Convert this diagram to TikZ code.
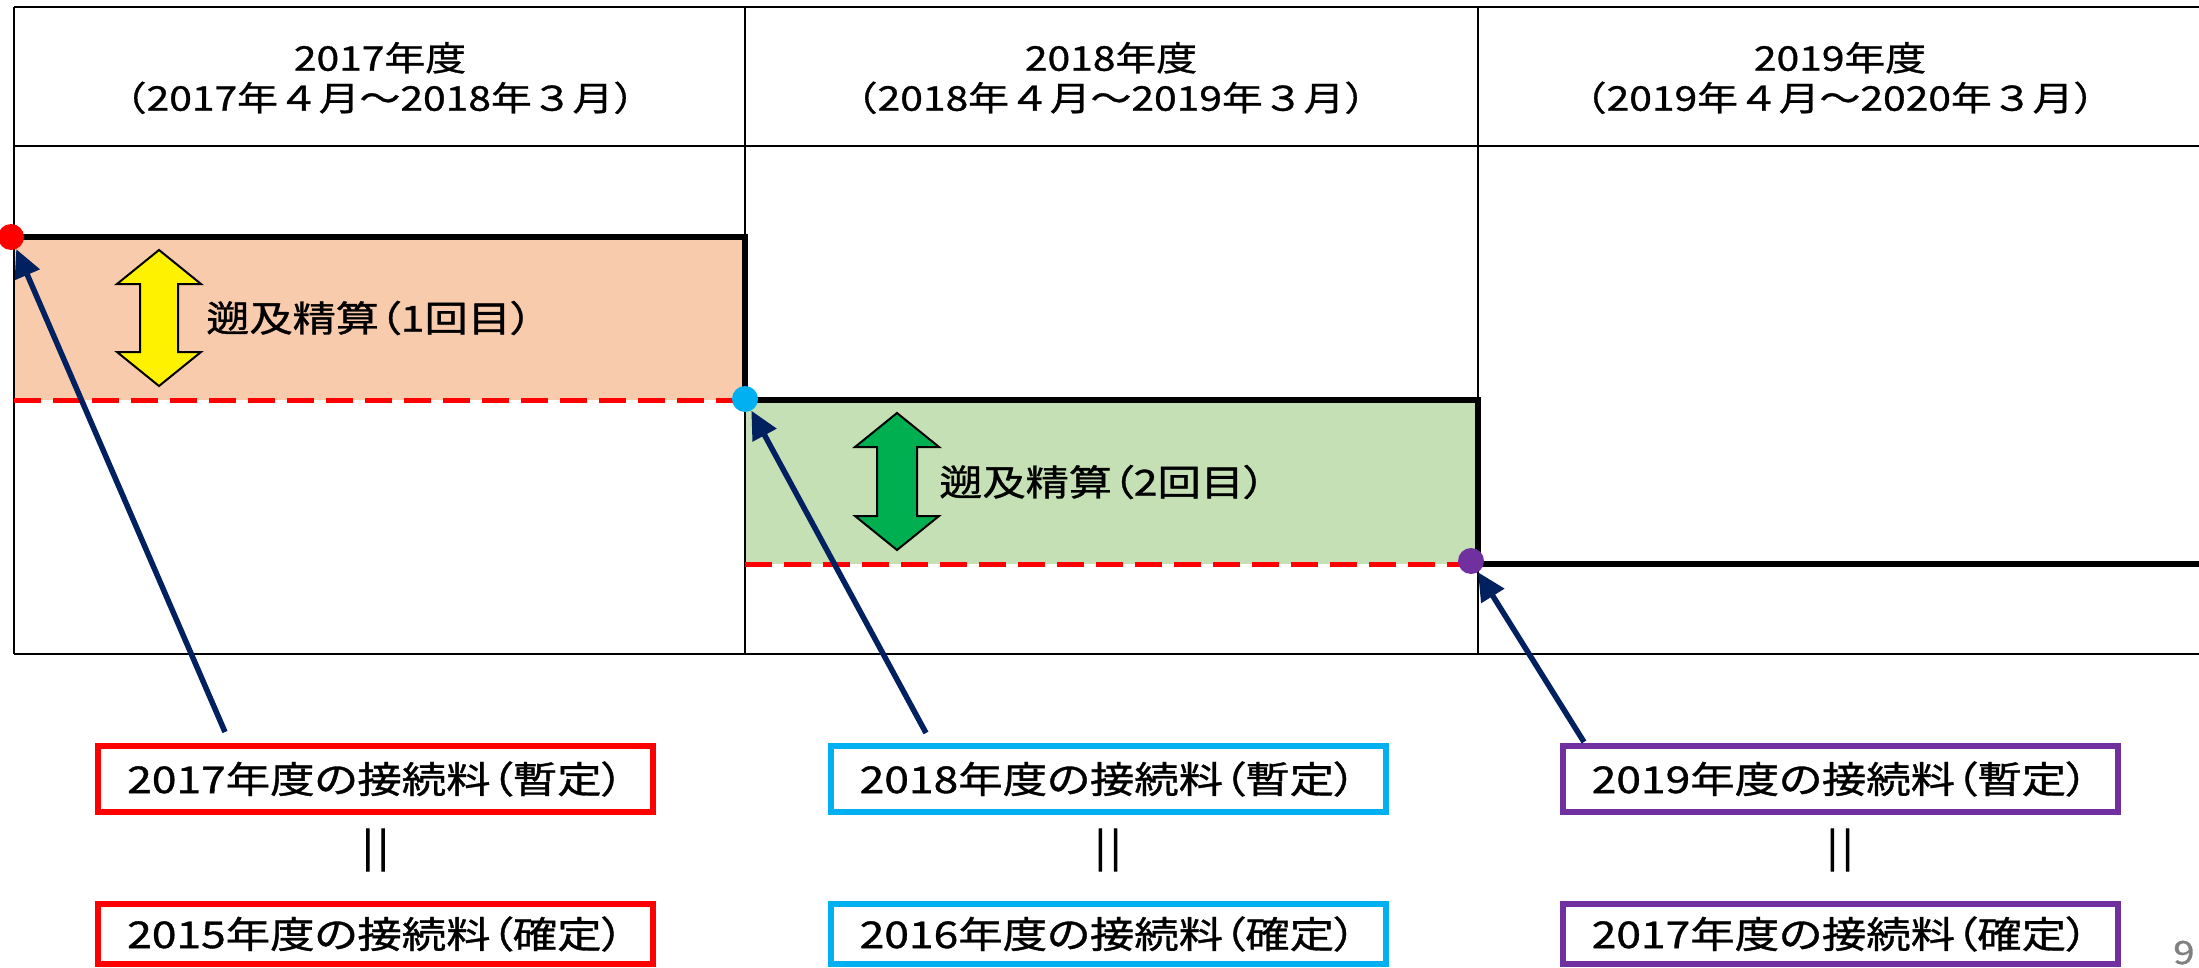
\documentclass[tikz,border=0pt]{standalone}
\usepackage{fontspec}
\setmainfont[FakeStretch=1.2, FakeBold=1, RawFeature=+palt]{Noto Sans CJK JP}
\newfontfamily\hdrfont[FakeStretch=1.2, FakeBold=1]{Noto Sans CJK JP}
\newfontfamily\eqfont[FakeBold=2.5]{Noto Sans CJK JP}
\usetikzlibrary{arrows.meta}
\definecolor{peach}{HTML}{F8CBAD}
\definecolor{lgreen}{HTML}{C5E0B4}
\definecolor{navyc}{HTML}{002060}
\definecolor{rred}{HTML}{FF0000}
\definecolor{ccyan}{HTML}{00B0F0}
\definecolor{ppurple}{HTML}{7030A0}
\definecolor{ygreen}{HTML}{00B050}
\begin{document}
\begin{tikzpicture}[x=1pt,y=-1pt,
  grid/.style={line width=2.5pt, black},
  heavy/.style={line width=6pt, black, line join=miter},
  reddash/.style={line width=5pt, rred, dash pattern=on 27pt off 12pt},
  dot/.style={circle, inner sep=0pt, minimum size=26pt},
  navyarrow/.style={line width=5.5pt, draw=navyc, -{Triangle[length=28pt,width=26pt]}},
  hdr/.style={align=center, inner sep=0pt, font=\hdrfont\fontsize{34}{40}\selectfont},
  lbltxt/.style={inner sep=0pt, font=\fontsize{36}{40}\selectfont},
  box/.style={draw, line width=6pt, minimum width=555pt, minimum height=66pt, inner sep=0pt, fill=white, font=\fontsize{37}{40}\selectfont},
  eqsign/.style={inner sep=0pt, font=\eqfont\fontsize{38}{40}\selectfont},
  blockarrow/.style={draw=black, line width=2pt, line join=miter}
]
\useasboundingbox (0,0) rectangle (2199,968);
% fills
\fill[peach] (14,237) rectangle (745,400);
\fill[lgreen] (745,400) rectangle (1478,564);
% table grid
\draw[grid] (14,7) -- (2199,7);
\draw[grid] (14,146) -- (2199,146);
\draw[grid] (14,654) -- (2199,654);
\draw[grid] (14,7) -- (14,654);
\draw[grid] (745,7) -- (745,654);
\draw[grid] (1478,7) -- (1478,654);
% headers
\node[hdr] (h1) at (380,78) {2017年度\\（2017年４月～2018年３月）};
\node[hdr] (h2) at (1111,78) {2018年度\\（2018年４月～2019年３月）};
\node[hdr] (h3) at (1840,78) {2019年度\\（2019年４月～2020年３月）};
% dashed levels
\draw[reddash] (14,400) -- (745,400);
\draw[reddash] (745,564) -- (1478,564);
% staircase
\draw[heavy] (14,237) -- (745,237) -- (745,400) -- (1478,400) -- (1478,564) -- (2199,564);
% block arrows
\draw[blockarrow, fill=yellow] (159,250) -- (201,284) -- (178,284) -- (178,352) -- (201,352) -- (159,386) -- (117,352) -- (140,352) -- (140,284) -- (117,284) -- cycle;
\draw[blockarrow, fill=ygreen] (897,413) -- (939,447) -- (917,447) -- (917,516) -- (939,516) -- (897,550) -- (855,516) -- (877,516) -- (877,447) -- (855,447) -- cycle;
\node[lbltxt, anchor=west] (s1) at (206,318) {遡及精算（1回目）};
\node[lbltxt, anchor=west] (s2) at (939,482) {遡及精算（2回目）};
% dots
\node[dot, fill=rred] (d1) at (11,237) {};
\node[dot, fill=ccyan] (d2) at (745,399) {};
\node[dot, fill=ppurple] (d3) at (1471,561) {};
% boxes
\node[box, draw=rred] (b1) at (375.5,779) {2017年度の接続料（暫定）};
\node[box, draw=ccyan] (b2) at (1108,779) {2018年度の接続料（暫定）};
\node[box, draw=ppurple] (b3) at (1840,779) {2019年度の接続料（暫定）};
\node[eqsign] (e1) at (375.5,850) {|\kern5pt|};
\node[eqsign] (e2) at (1108,850) {|\kern5pt|};
\node[eqsign] (e3) at (1840,850) {|\kern5pt|};
\begin{scope}[box/.append style={minimum height=60pt}]
\node[box, draw=rred] (c1) at (375.5,934) {2015年度の接続料（確定）};
\node[box, draw=ccyan] (c2) at (1108,934) {2016年度の接続料（確定）};
\node[box, draw=ppurple] (c3) at (1840,934) {2017年度の接続料（確定）};
\end{scope}
% pointer arrows
\coordinate (t1) at (225,732);
\coordinate (t2) at (926,733);
\coordinate (t3) at (1584,742);
\draw[navyarrow] (t1) -- (d1);
\draw[navyarrow] (t2) -- (d2);
\draw[navyarrow] (t3) -- (d3);
% page number
\node[anchor=base west, inner sep=0pt, text=gray, font=\fontsize{32}{36}\selectfont] (pg) at (2173,964) {9};
\end{tikzpicture}
\end{document}
